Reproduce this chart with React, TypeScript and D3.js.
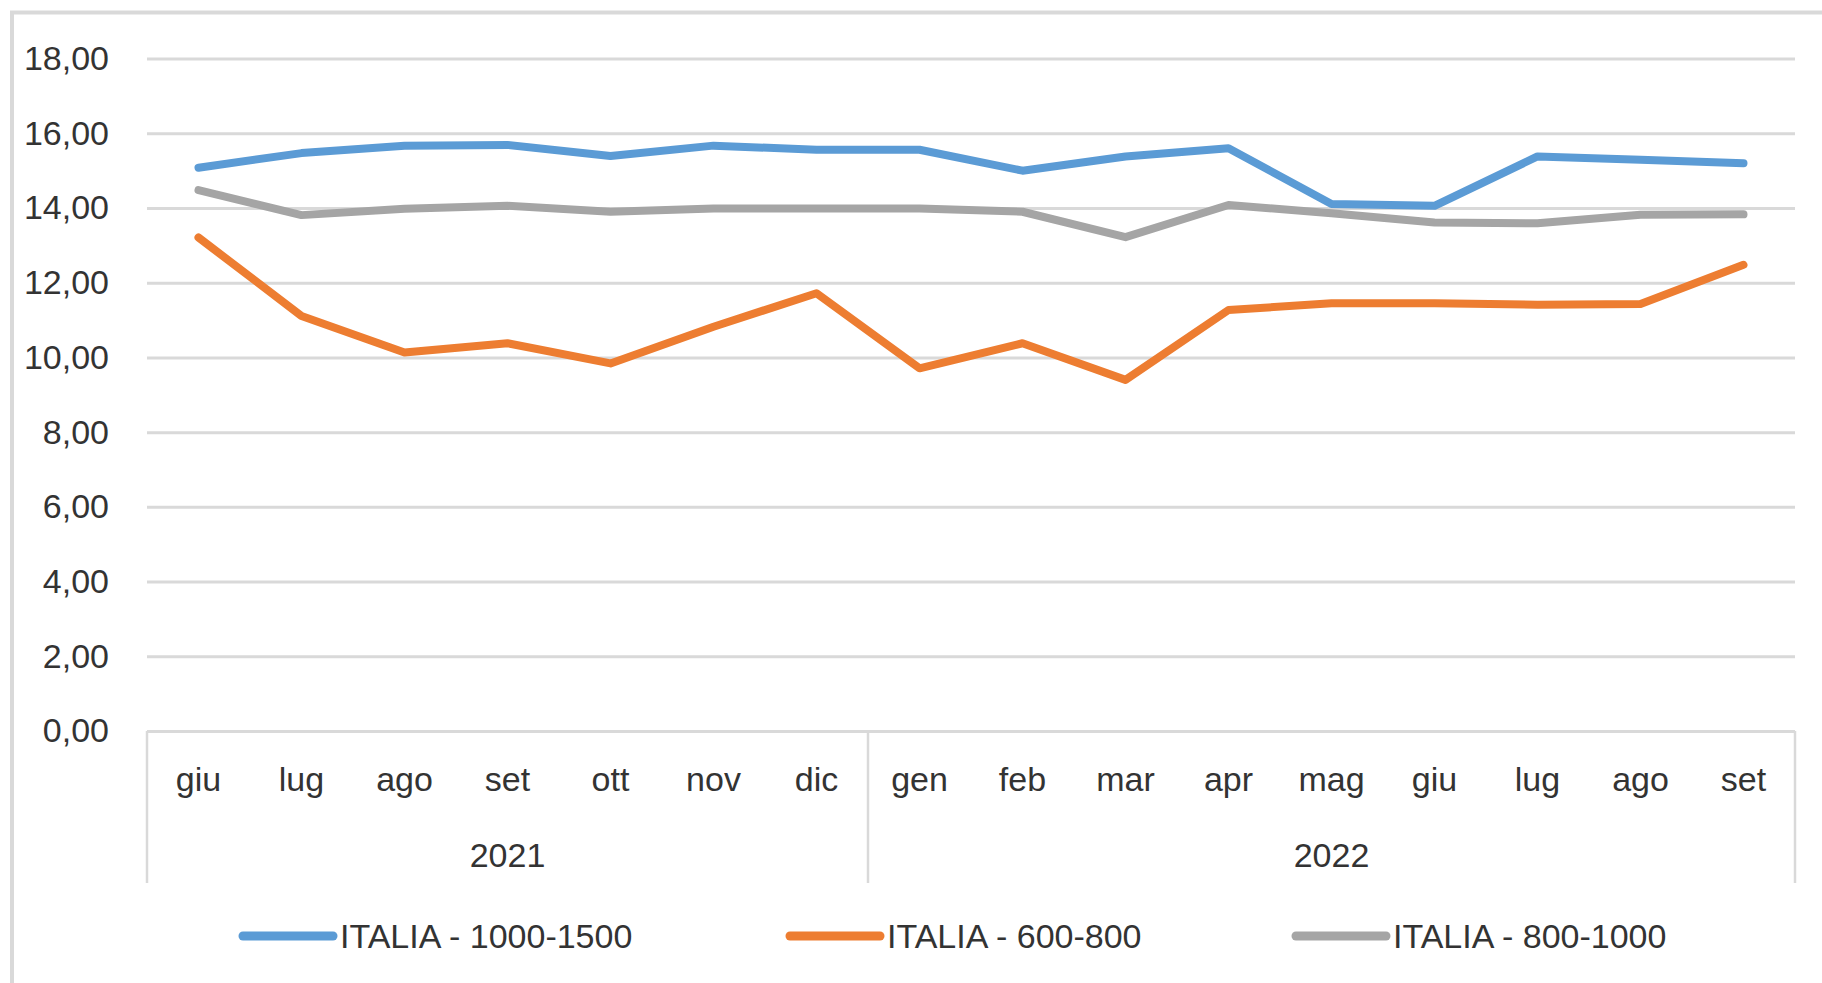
import { useEffect, useRef } from 'react';
import * as d3 from 'd3';

// month labels along the x axis (two years)
const months = ['giu', 'lug', 'ago', 'set', 'ott', 'nov', 'dic', 'gen', 'feb', 'mar', 'apr', 'mag', 'giu', 'lug', 'ago', 'set'];
const years = [
  { label: '2021', from: 0, to: 7 },
  { label: '2022', from: 7, to: 16 },
];
const yTicks = [0, 2, 4, 6, 8, 10, 12, 14, 16, 18];

const serie1000 = [15.08, 15.47, 15.67, 15.69, 15.39, 15.67, 15.56, 15.56, 15.0, 15.38, 15.6, 14.11, 14.06, 15.38, 15.29, 15.2];
const serie600 = [13.21, 11.11, 10.13, 10.38, 9.84, 10.82, 11.72, 9.71, 10.38, 9.4, 11.27, 11.45, 11.45, 11.41, 11.43, 12.48];
const serie800 = [14.48, 13.81, 13.98, 14.06, 13.9, 13.99, 13.99, 13.99, 13.9, 13.22, 14.08, 13.86, 13.61, 13.59, 13.82, 13.83];

const series = [
  { name: 'ITALIA - 1000-1500', values: serie1000, color: '#5b9bd5' },
  { name: 'ITALIA - 600-800', values: serie600, color: '#ed7d31' },
  { name: 'ITALIA - 800-1000', values: serie800, color: '#a5a5a5' },
];

export default function App() {
  const svgRef = useRef<SVGSVGElement | null>(null);

  useEffect(() => {
    if (!svgRef.current) return;
    const svg = d3.select(svgRef.current);
    svg.selectAll('*').remove();

    const W = 1822;
    const H = 983;
    const margin = { top: 58.6, left: 147, right: 27 };
    const plotBottom = 731;
    const font = '"Liberation Sans", Arial, sans-serif';
    const gridColor = '#d9d9d9';

    svg.append('rect').attr('width', W).attr('height', H).attr('fill', '#fff');

    // chart frame (only top and left edges visible)
    svg.append('rect')
      .attr('x', 12).attr('y', 12.5)
      .attr('width', W + 100).attr('height', H + 100)
      .attr('fill', 'none')
      .attr('stroke', gridColor)
      .attr('stroke-width', 4);

    const x = d3.scaleBand<number>()
      .domain(d3.range(months.length))
      .range([margin.left, W - margin.right])
      .padding(0);

    const y = d3.scaleLinear()
      .domain([0, 18])
      .range([plotBottom, margin.top]);

    const locale = d3.formatLocale({ decimal: ',', thousands: '.', grouping: [3], currency: ['€', ''] });
    const fmt = locale.format('.2f');

    // gridlines + y labels
    const yAxis = svg.append('g')
      .attr('transform', `translate(${margin.left},0)`)
      .call(
        d3.axisLeft(y)
          .tickValues(yTicks)
          .tickSize(-(W - margin.right - margin.left))
          .tickPadding(38)
          .tickFormat(d => fmt(d as number))
      );
    yAxis.select('.domain').remove();
    yAxis.selectAll('.tick line')
      .attr('stroke', gridColor)
      .attr('stroke-width', 3);
    yAxis.selectAll('.tick text')
      .attr('fill', '#333')
      .style('font-family', font)
      .style('font-size', '34px');

    // category separators below the axis
    const sepX = [x(0)!, x(7)!, x(months.length - 1)! + x.bandwidth()];
    svg.append('g')
      .selectAll('line')
      .data(sepX)
      .enter()
      .append('line')
      .attr('x1', d => d).attr('x2', d => d)
      .attr('y1', plotBottom).attr('y2', 883)
      .attr('stroke', gridColor)
      .attr('stroke-width', 2.5);

    // month labels
    svg.append('g')
      .selectAll('text')
      .data(months)
      .enter()
      .append('text')
      .attr('x', (_, i) => x(i)! + x.bandwidth() / 2)
      .attr('y', 791)
      .attr('text-anchor', 'middle')
      .attr('fill', '#333')
      .style('font-family', font)
      .style('font-size', '34px')
      .text(d => d);

    // year labels
    svg.append('g')
      .selectAll('text')
      .data(years)
      .enter()
      .append('text')
      .attr('x', d => (x(d.from)! + x(d.to - 1)! + x.bandwidth()) / 2)
      .attr('y', 867)
      .attr('text-anchor', 'middle')
      .attr('fill', '#333')
      .style('font-family', font)
      .style('font-size', '34px')
      .text(d => d.label);

    // lines
    const line = d3.line<number>()
      .x((_, i) => x(i)! + x.bandwidth() / 2)
      .y(d => y(d));

    svg.append('g')
      .selectAll('path')
      .data(series)
      .enter()
      .append('path')
      .attr('d', d => line(d.values))
      .attr('fill', 'none')
      .attr('stroke', d => d.color)
      .attr('stroke-width', 8)
      .attr('stroke-linejoin', 'round')
      .attr('stroke-linecap', 'round');

    // legend
    const legendX = [243, 790, 1296];
    const legend = svg.append('g');
    series.forEach((s, i) => {
      const row = legend.append('g').attr('transform', `translate(${legendX[i]},936)`);
      row.append('line')
        .attr('x1', 0).attr('x2', 90)
        .attr('y1', 0).attr('y2', 0)
        .attr('stroke', s.color)
        .attr('stroke-width', 9)
        .attr('stroke-linecap', 'round');
      row.append('text')
        .attr('x', 97)
        .attr('y', 12)
        .attr('fill', '#333')
        .style('font-family', font)
        .style('font-size', '34px')
        .text(s.name);
    });
  }, []);

  return (
    <svg
      ref={svgRef}
      width={1822}
      height={983}
      style={{ position: 'absolute', left: 0, top: 0, display: 'block' }}
    />
  );
}
